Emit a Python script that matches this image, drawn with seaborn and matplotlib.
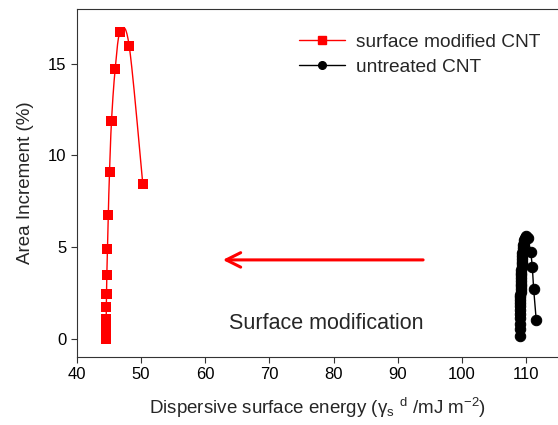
import numpy as np
import matplotlib
matplotlib.use("Agg")
import matplotlib.pyplot as plt
import seaborn as sns
from matplotlib.lines import Line2D

# surface modified CNT (red squares)
red_x = [44.5, 44.5, 44.5, 44.52, 44.52, 44.55, 44.55, 44.58, 44.6, 44.65,
         44.75, 44.87, 45.07, 45.38, 45.95, 46.73, 48.13, 50.25]
red_y = [0.0, 0.15, 0.3, 0.45, 0.6, 0.8, 1.08, 1.71, 2.43, 3.47,
         4.89, 6.75, 9.1, 11.9, 14.72, 16.75, 16.0, 8.47]

# untreated CNT (black circles)
black_x = [109.05, 109.05, 109.05, 109.06, 109.06, 109.07, 109.07, 109.08, 109.08, 109.09,
           109.1, 109.1, 109.11, 109.12, 109.13, 109.14, 109.15, 109.16, 109.17, 109.18,
           109.2, 109.21, 109.23, 109.25, 109.27, 109.29, 109.31, 109.33, 109.35, 109.38,
           109.41, 109.44, 109.48, 109.52, 109.57, 109.63, 109.72, 109.85, 110.05, 110.3,
           110.76, 111.0, 111.2, 111.6]
black_y = [0.0, 0.15, 0.3, 0.45, 0.6, 0.75, 0.9, 1.05, 1.2, 1.35,
           1.5, 1.65, 1.8, 1.95, 2.1, 2.25, 2.4, 2.55, 2.7, 2.85,
           3.0, 3.15, 3.3, 3.45, 3.6, 3.75, 3.9, 4.05, 4.2, 4.35,
           4.5, 4.65, 4.8, 4.95, 5.1, 5.25, 5.4, 5.52, 5.6, 5.5,
           4.73, 3.9, 2.72, 1.04]

labels = ["surface modified CNT", "untreated CNT"]


def smooth(xs, ys, n=20):
    # catmull-rom curve through the points, for the drawn line only
    p = np.column_stack([xs, ys]).astype(float)
    p = np.vstack([p[0], p, p[-1]])
    out = []
    t = np.linspace(0, 1, n, endpoint=False)[:, None]
    for i in range(1, len(p) - 2):
        p0, p1, p2, p3 = p[i - 1], p[i], p[i + 1], p[i + 2]
        seg = 0.5 * ((2 * p1) + (-p0 + p2) * t + (2 * p0 - 5 * p1 + 4 * p2 - p3) * t ** 2
                     + (-p0 + 3 * p1 - 3 * p2 + p3) * t ** 3)
        out.append(seg)
    out.append(p[-2][None, :])
    out = np.vstack(out)
    return out[:, 0], out[:, 1]


sns.set_style("ticks")
plt.rcParams['font.family'] = ['Liberation Sans', 'DejaVu Sans']
plt.rcParams['mathtext.fontset'] = 'custom'
plt.rcParams['mathtext.rm'] = 'Liberation Sans'
plt.rcParams['mathtext.it'] = 'Liberation Sans:italic'

fig = plt.figure(figsize=(5.58, 4.25), dpi=100)
ax = fig.add_axes([0.138, 0.16, 0.862, 0.819])

sx, sy = smooth(red_x, red_y)
ax.plot(sx, sy, color="#ff0000", lw=1.0, zorder=2)
sns.scatterplot(x=red_x, y=red_y, marker="s", s=52, color="#ff0000",
                edgecolor="none", ax=ax, zorder=3)

sns.lineplot(x=black_x, y=black_y, sort=False, color="black", lw=1.0,
             marker="o", markersize=7.5, markeredgecolor="black", ax=ax, zorder=3)

ax.annotate("", xy=(62.3, 4.3), xytext=(94.4, 4.3),
            arrowprops=dict(arrowstyle="->", color="#ff0000", lw=2.2, mutation_scale=26))
ax.text(78.8, 0.85, "Surface modification", fontsize=15.5, ha="center", va="center")

ax.set_xlim(40, 115)
ax.set_ylim(-1, 18)
ax.set_xticks(range(40, 111, 10))
ax.set_yticks([0, 5, 10, 15])
ax.tick_params(labelsize=12, direction="out", length=4, colors="#333333", labelcolor="black")
for s in ["left", "bottom", "top"]:
    ax.spines[s].set_color("#333333")
ax.spines["right"].set_visible(False)

ax.set_xlabel("Dispersive surface energy (γ$_{\\mathrm{s}}$ $^{\\mathrm{d}}$ /mJ m$^{\\mathrm{-2}}$)",
              fontsize=13.5, labelpad=10)
ax.set_ylabel("Area Increment (%)", fontsize=13.5, labelpad=10)

handles = [
    Line2D([], [], color="#ff0000", lw=1.0, marker="s", markersize=5.5),
    Line2D([], [], color="black", lw=1.0, marker="o", markersize=5.5),
]
ax.legend(handles, labels, loc="upper right", bbox_to_anchor=(1.0, 0.98),
          frameon=False, fontsize=13.8, handlelength=2.4, handletextpad=0.6,
          labelspacing=0.4)

fig.savefig("out.png", dpi=100)
